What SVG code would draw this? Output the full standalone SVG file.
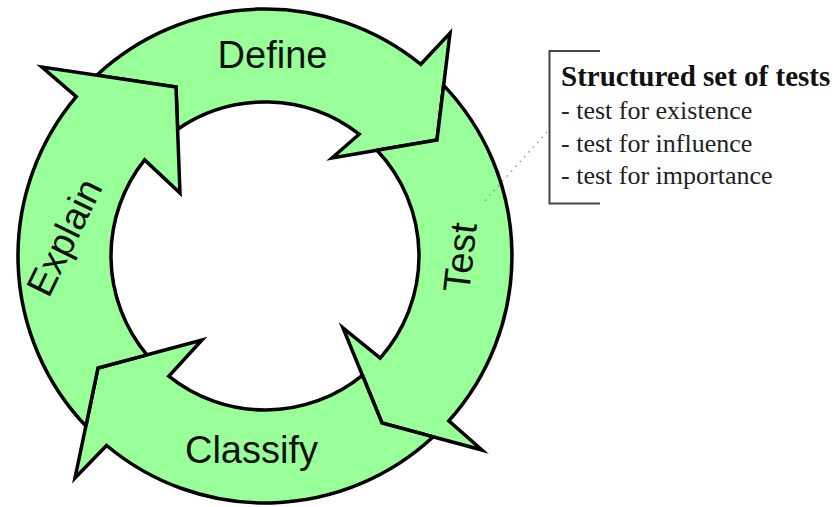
<svg xmlns="http://www.w3.org/2000/svg" width="837" height="507" viewBox="0 0 837 507">
<style>
.fill{fill:#99ff99;stroke:none}
.outline{fill:none;stroke:#000;stroke-width:3.5;stroke-linejoin:miter;stroke-miterlimit:8}
.label{font-family:"Liberation Sans",Arial,sans-serif;font-size:38px;fill:#111;text-anchor:middle}
.title{font-family:"Liberation Serif","Times New Roman",serif;font-size:29px;font-weight:bold;fill:#111}
.item{font-family:"Liberation Serif","Times New Roman",serif;font-size:26px;fill:#222}
.bracket{fill:none;stroke:#444;stroke-width:2}
.leader{fill:none;stroke:#999;stroke-width:1.5;stroke-dasharray:1.5 5}
</style>
<rect width="837" height="507" fill="#fff"/>
<g id="node-define">
<path class="fill" d="M96.74 75.17 A247 247 0 0 1 420.8 64.3 L450 33 L437 140 L332 158 L359.2 134.2 A154 154 0 0 0 177.59 129.21 L176 87 Z"/>
<path class="outline" d="M177.59 129.21 L176 87 L96.74 75.17 M96.74 75.17 A247 247 0 0 1 420.8 64.3 L450 33 L437 140 L332 158 L359.2 134.2 A154 154 0 0 0 177.59 129.21"/>
<text class="label" x="272.5" y="68">Define</text>
</g>
<g id="node-test">
<path class="fill" d="M443.63 85.41 A247 247 0 0 1 448.8 420.9 L482 450 L382 423 L343 328 L380.2 358.2 A154 154 0 0 0 376.98 150.29 L437 140 Z"/>
<path class="outline" d="M376.98 150.29 L437 140 L443.63 85.41 M443.63 85.41 A247 247 0 0 1 448.8 420.9 L482 450 L382 423 L343 328 L380.2 358.2 A154 154 0 0 0 376.98 150.29"/>
<text class="label" transform="translate(473 259) rotate(-83.5)">Test</text>
</g>
<g id="node-classify">
<path class="fill" d="M433.25 436.84 A247 247 0 0 1 106.6 445.5 L75 478 L98 368 L202 340 L168.7 376.2 A154 154 0 0 0 362.41 375.28 L382 423 Z"/>
<path class="outline" d="M362.41 375.28 L382 423 L433.25 436.84 M433.25 436.84 A247 247 0 0 1 106.6 445.5 L75 478 L98 368 L202 340 L168.7 376.2 A154 154 0 0 0 362.41 375.28"/>
<text class="label" x="251.5" y="463">Classify</text>
</g>
<g id="node-explain">
<path class="fill" d="M85.86 426.05 A247 247 0 0 1 76.3 96.6 L42 67 L176 87 L180 193 L144.6 159.9 A154 154 0 0 0 146.9 354.83 L98 368 Z"/>
<path class="outline" d="M146.9 354.83 L98 368 L85.86 426.05 M85.86 426.05 A247 247 0 0 1 76.3 96.6 L42 67 L176 87 L180 193 L144.6 159.9 A154 154 0 0 0 146.9 354.83"/>
<text class="label" transform="translate(76 243) rotate(-64)">Explain</text>
</g>
<g id="connectors">
<path class="leader" d="M547 132 L482 204"/>
</g>
<g id="node-callout">
<path class="bracket" d="M600 51 H549.5 V203.5 H600"/>
<text class="title" x="561" y="86">Structured set of tests</text>
<text class="item" x="561" y="119">- test for existence</text>
<text class="item" x="561" y="152">- test for influence</text>
<text class="item" x="561" y="184">- test for importance</text>
</g>
</svg>
